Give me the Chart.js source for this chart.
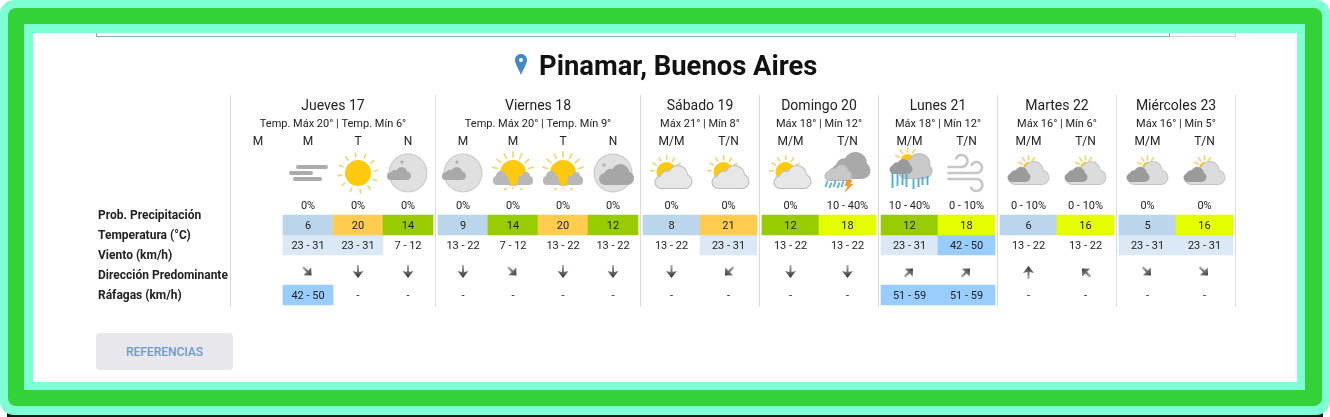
<!DOCTYPE html>
<html lang="es">
<head>
<meta charset="utf-8">
<title>Pinamar, Buenos Aires</title>
<script src="https://cdn.jsdelivr.net/npm/chart.js@4"></script>
<style>
  html, body { margin: 0; padding: 0; width: 1330px; height: 417px; overflow: hidden; background: #fff; font-family: Roboto, sans-serif; }
  .box { position: absolute; box-sizing: border-box; }
  #strip { left: 7px; top: 412px; width: 1316px; height: 5px; background: #10181a; }
  #outer { left: 0; top: 0; width: 1330px; height: 415px; background: #7fffd4; border-radius: 14px; }
  #green { left: 8px; top: 8px; width: 1314px; height: 398px; background: #32d238; border-radius: 8px; }
  #inner { left: 24px; top: 24px; width: 1281px; height: 366px; background: #7fffd4; }
  #white { left: 33px; top: 33px; width: 1264px; height: 349px; background: #fff; }
  #search { left: 96px; top: 33px; width: 1074px; height: 4px; border: 1px solid #8ea9c4; border-top: 0; }
  #searchBtn { left: 1170px; top: 33px; width: 66px; height: 4px; border: 1px solid #cfcfcf; border-top: 0; border-left: 0; }
  #chart { position: absolute; left: 0; top: 0; }
  #title { position: absolute; left: 515px; top: 49px; height: 34px; line-height: 34px; white-space: nowrap; font-size: 27.4px; font-weight: 700; color: #111; }
  #title svg { position: absolute; left: 0; top: 5px; }
  #title span { margin-left: 24px; }
  #refs { position: absolute; left: 96px; top: 333px; width: 137px; height: 37px; border: 0; border-radius: 4px; background: #e8e8ec; color: #6a9ccf; font: 500 12px Roboto, sans-serif; padding: 0; }
</style>
</head>
<body>
<div class="box" id="strip"></div>
<div class="box" id="outer"></div>
<div class="box" id="green"></div>
<div class="box" id="inner"></div>
<div class="box" id="white"></div>
<div class="box" id="search"></div>
<div class="box" id="searchBtn"></div>
<canvas id="chart" width="1330" height="417"></canvas>
<div id="title">
  <svg width="12" height="21" viewBox="0 0 12 21"><path d="M6 0C2.6 0 0 2.6 0 6c0 4 3.8 9 6 15 2.2-6 6-11 6-15 0-3.4-2.6-6-6-6z" fill="#4488c8"/><circle cx="6" cy="6" r="2" fill="#fff"/></svg>
  <span>Pinamar, Buenos Aires</span>
</div>
<button id="refs">REFERENCIAS</button>
<script>
var dayNames = ['Jueves 17', 'Viernes 18', 'Sábado 19', 'Domingo 20', 'Lunes 21', 'Martes 22', 'Miércoles 23'];
var dayRanges = [
    'Temp. Máx 20° | Temp. Mín 6°', 'Temp. Máx 20° | Temp. Mín 9°', 'Máx 21° | Mín 8°', 'Máx 18° | Mín 12°',
    'Máx 18° | Mín 12°', 'Máx 16° | Mín 6°', 'Máx 16° | Mín 5°'
];
var dayPeriods = [
    ['M', 'M', 'T', 'N'], ['M', 'M', 'T', 'N'], ['M/M', 'T/N'], ['M/M', 'T/N'],
    ['M/M', 'T/N'], ['M/M', 'T/N'], ['M/M', 'T/N']
];
var rowLabels = ['Prob. Precipitación', 'Temperatura (°C)', 'Viento (km/h)', 'Dirección Predominante', 'Ráfagas (km/h)'];

// one entry per column, the first column of Jueves is empty
var icons = [null, 'haze', 'sun', 'moonSmall', 'moonSmall', 'sunFog', 'sunFog', 'moonBig', 'sunCloud', 'sunCloud',
    'sunCloud', 'storm', 'rain', 'wind', 'grayCloud', 'grayCloud', 'grayCloud', 'grayCloud'];
var precip = [null, '0%', '0%', '0%', '0%', '0%', '0%', '0%', '0%', '0%',
    '0%', '10 - 40%', '10 - 40%', '0 - 10%', '0 - 10%', '0 - 10%', '0%', '0%'];
var temps = [null, 6, 20, 14, 9, 14, 20, 12, 8, 21, 12, 18, 12, 18, 6, 16, 5, 16];
var wind = [null, '23 - 31', '23 - 31', '7 - 12', '13 - 22', '7 - 12', '13 - 22', '13 - 22', '13 - 22', '23 - 31',
    '13 - 22', '13 - 22', '23 - 31', '42 - 50', '13 - 22', '13 - 22', '23 - 31', '23 - 31'];
var windDir = [null, 'SE', 'S', 'S', 'S', 'SE', 'S', 'S', 'S', 'SW', 'S', 'S', 'NE', 'NE', 'N', 'NW', 'SE', 'SE'];
var gusts = [null, '42 - 50', '-', '-', '-', '-', '-', '-', '-', '-', '-', '-', '51 - 59', '51 - 59', '-', '-', '-', '-'];

// table layout, both scales run in page pixels
var dayEdges = [230.5, 435.5, 640.5, 759.5, 878.5, 997.5, 1116.5, 1235.5];
var labelY = [216, 236, 256, 276, 296];
var Y_DAY = 106, Y_RANGE = 124, Y_PERIOD = 142, Y_ICON = 173, Y_PRECIP = 206, Y_TEMP = 225, Y_WIND = 245, Y_DIR = 272, Y_GUST = 295;
var TEXT_NUDGE = 1; // cell text sits a pixel under the cell middle
var TEXT = '#222';

var columns = [];
dayPeriods.forEach(function(periods, d) {
    var w = (dayEdges[d + 1] - dayEdges[d] - 5) / periods.length;
    periods.forEach(function(p, i) {
        var left = dayEdges[d] + 2.5 + i * w;
        columns.push({ left: left, right: left + w, center: left + w / 2, period: p });
    });
});

function tempColor(t) {
    if (t >= 20) return '#ffcc4d';
    if (t >= 16) return '#e5ff00';
    if (t >= 12) return '#99cc00';
    return '#bbd5ec';
}

function windColor(v) {
    if (v === '23 - 31') return '#dbe9f6';
    if (v === '42 - 50' || v === '51 - 59') return '#99ccff';
    return 'transparent';
}

function cells(values, y) {
    var out = [];
    values.forEach(function(v, i) {
        if (v !== null) out.push({ x: [columns[i].left, columns[i].right], y: y, v: v });
    });
    return out;
}

// icon drawing, coordinates relative to the icon centre
function cloud(ctx, l, t, w, h, fill, edge) {
    var blobs = [
        [l + h * 0.26, t + h * 0.74, h * 0.26],
        [l + w - h * 0.3, t + h * 0.7, h * 0.3],
        [l + w * 0.62, t + h * 0.42, h * 0.42],
        [l + w * 0.32, t + h * 0.55, h * 0.3]
    ];
    [[edge, 1], [fill, 0]].forEach(function(pass) {
        ctx.fillStyle = pass[0];
        ctx.beginPath();
        blobs.forEach(function(b) {
            ctx.moveTo(b[0] + b[2] + pass[1], b[1]);
            ctx.arc(b[0], b[1], b[2] + pass[1], 0, Math.PI * 2);
        });
        ctx.rect(l + h * 0.26, t + h * 0.5 - pass[1], w - h * 0.56, h * 0.5 + pass[1] * 2);
        ctx.fill();
    });
}

function sun(ctx, x, y, r, rayIn, rayOut, from, to, count) {
    ctx.strokeStyle = '#efd97e';
    ctx.lineWidth = 1.8;
    ctx.lineCap = 'round';
    for (var i = 0; i < count; i++) {
        var a = from + (to - from) * (i + 0.5) / count;
        ctx.beginPath();
        ctx.moveTo(x + Math.cos(a) * rayIn, y + Math.sin(a) * rayIn);
        ctx.lineTo(x + Math.cos(a) * rayOut, y + Math.sin(a) * rayOut);
        ctx.stroke();
    }
    ctx.fillStyle = '#ffc90e';
    ctx.beginPath();
    ctx.arc(x, y, r, 0, Math.PI * 2);
    ctx.fill();
}

function moon(ctx) {
    ctx.fillStyle = '#c9c9c9';
    ctx.beginPath();
    ctx.arc(0, 0, 19.5, 0, Math.PI * 2);
    ctx.fill();
    ctx.fillStyle = '#e0e0e0';
    ctx.beginPath();
    ctx.arc(0, 0, 18.5, 0, Math.PI * 2);
    ctx.fill();
}

function streak(ctx, x1, x2, y, w) {
    ctx.lineCap = 'round';
    ctx.lineWidth = w;
    ctx.beginPath();
    ctx.moveTo(x1, y);
    ctx.lineTo(x2, y);
    ctx.stroke();
}

var drawIcon = {
    haze: function(ctx) {
        ctx.strokeStyle = '#ababab';
        streak(ctx, -10, 18, -6, 4);
        streak(ctx, -17, 3, 0, 4);
        streak(ctx, -13, 12, 6, 4);
    },
    sun: function(ctx) {
        sun(ctx, 0, 0, 13, 16.5, 20, 0.13, Math.PI * 2 + 0.13, 12);
    },
    moonSmall: function(ctx) {
        moon(ctx);
        cloud(ctx, -20, -5, 22, 11, '#a9a9a9', '#a9a9a9');
        ctx.fillStyle = '#a9a9a9';
        ctx.beginPath();
        ctx.arc(-6, -11, 1.6, 0, Math.PI * 2);
        ctx.fill();
    },
    moonBig: function(ctx) {
        moon(ctx);
        cloud(ctx, -13, -8, 33, 19, '#a6a6a6', '#a6a6a6');
        ctx.fillStyle = '#b5b5b5';
        ctx.beginPath();
        ctx.arc(-9, -8, 1.8, 0, Math.PI * 2);
        ctx.fill();
    },
    sunFog: function(ctx) {
        sun(ctx, 0, 0, 13, 16, 21, Math.PI * 1.02, Math.PI * 1.98, 7);
        ctx.fillStyle = '#b8b8b8';
        ctx.beginPath();
        ctx.roundRect(-20, 3, 40, 9, 4);
        ctx.fill();
        ctx.beginPath();
        ctx.arc(-12, 3, 5, 0, Math.PI * 2);
        ctx.arc(13, 3, 4, 0, Math.PI * 2);
        ctx.fill();
        ctx.fillStyle = '#ffc90e';
        ctx.beginPath();
        ctx.moveTo(-6, 2);
        ctx.lineTo(6, 2);
        ctx.lineTo(3, 13);
        ctx.lineTo(-2, 13);
        ctx.fill();
        ctx.strokeStyle = '#efd97e';
        ctx.lineWidth = 1.8;
        streak(ctx, 0, 0, 15, 2);
        streak(ctx, -8, -7, 16, 1.8);
        streak(ctx, 8, 9, 16, 1.8);
    },
    sunCloud: function(ctx) {
        sun(ctx, -5, -1, 10, 12.5, 16, Math.PI * 0.95, Math.PI * 1.9, 6);
        cloud(ctx, -16, -7, 36, 22, '#e7e7e7', '#b9b9b9');
    },
    storm: function(ctx) {
        cloud(ctx, -15, -20, 37, 25, '#a9a9a9', '#a9a9a9');
        cloud(ctx, -22, -8, 26, 15, '#c8c8c8', '#b0b0b0');
        ctx.strokeStyle = '#4fb3d1';
        ctx.lineWidth = 1.8;
        [-20, -16, -12, -8, -4].forEach(function(x, i) {
            ctx.beginPath();
            ctx.moveTo(x, 8 + (i % 2) * 1.5);
            ctx.lineTo(x - 2, 14 + (i % 2));
            ctx.stroke();
        });
        ctx.fillStyle = '#e9a03a';
        ctx.beginPath();
        ctx.moveTo(-1, 7);
        ctx.lineTo(5, 7);
        ctx.lineTo(3, 11);
        ctx.lineTo(6, 11);
        ctx.lineTo(-3, 20);
        ctx.lineTo(0, 13);
        ctx.lineTo(-3, 13);
        ctx.fill();
    },
    rain: function(ctx) {
        sun(ctx, -2, -12, 7, 9, 13, Math.PI * 1.05, Math.PI * 1.95, 5);
        cloud(ctx, -10, -19, 32, 24, '#c9c9c9', '#bdbdbd');
        cloud(ctx, -19, -13, 21, 13, '#9a9a9a', '#9a9a9a');
        ctx.strokeStyle = '#4fb0cf';
        ctx.lineCap = 'butt';
        ctx.lineWidth = 1.9;
        [[-17, 0, 9], [-12, 1, 7], [-7, 1, 6], [-3, 1, 8], [4, 6, 16], [9, 5, 14], [13, 4, 12], [18, 3, 12]].forEach(function(d) {
            ctx.beginPath();
            ctx.moveTo(d[0], d[1]);
            ctx.lineTo(d[0], d[2] + (d[1] < 2 ? 6 : 0));
            ctx.stroke();
        });
    },
    wind: function(ctx) {
        ctx.strokeStyle = '#c6c6c6';
        ctx.lineWidth = 2.6;
        ctx.lineCap = 'round';
        ctx.beginPath();
        ctx.moveTo(-18, -6);
        ctx.lineTo(-5, -6);
        ctx.arc(-5, -12, 6, Math.PI / 2, -Math.PI * 0.85, true);
        ctx.stroke();
        ctx.beginPath();
        ctx.moveTo(-18, 0);
        ctx.lineTo(10, 0);
        ctx.arc(10, -5.5, 5.5, Math.PI / 2, -Math.PI * 0.85, true);
        ctx.stroke();
        ctx.beginPath();
        ctx.moveTo(-18, 6);
        ctx.lineTo(10, 6);
        ctx.arc(10, 12, 6, -Math.PI / 2, Math.PI * 0.85);
        ctx.stroke();
    },
    grayCloud: function(ctx) {
        sun(ctx, 0, -6, 5, 7, 11, Math.PI * 1.05, Math.PI * 1.95, 5);
        cloud(ctx, -19, -11, 39, 22, '#dcdcdc', '#c4c4c4');
        cloud(ctx, -20, -5, 21, 13, '#9b9b9b', '#9b9b9b');
    }
};

var dirAngle = { S: 0, SW: 45, W: 90, NW: 135, N: 180, NE: 225, E: 270, SE: 315 };

function drawArrow(ctx, x, y, dir) {
    ctx.save();
    ctx.translate(x, y);
    ctx.rotate(dirAngle[dir] * Math.PI / 180);
    var grad = ctx.createLinearGradient(0, -7, 0, 6);
    grad.addColorStop(0, '#b5b5b5');
    grad.addColorStop(1, '#2e2e2e');
    ctx.fillStyle = grad;
    ctx.beginPath();
    if (dir.length === 2) {
        ctx.moveTo(-1.2, -7);
        ctx.lineTo(1.2, -7);
        ctx.lineTo(1.2, -1);
        ctx.lineTo(5.5, -1);
        ctx.lineTo(0, 5);
        ctx.lineTo(-5.5, -1);
        ctx.lineTo(-1.2, -1);
    } else {
        ctx.moveTo(-1, -7);
        ctx.lineTo(1, -7);
        ctx.lineTo(1, 0);
        ctx.lineTo(5.5, -1);
        ctx.lineTo(0, 6);
        ctx.lineTo(-5.5, -1);
        ctx.lineTo(-1, 0);
    }
    ctx.closePath();
    ctx.fill();
    ctx.restore();
}

var tableText = {
    id: 'tableText',
    afterDatasetsDraw: function(chart) {
        var ctx = chart.ctx, x = chart.scales.x, y = chart.scales.y;

        function put(text, xv, yv, font) {
            ctx.font = font;
            ctx.fillStyle = TEXT;
            ctx.fillText(text, x.getPixelForValue(xv), y.getPixelForValue(yv));
        }

        ctx.save();
        ctx.textAlign = 'center';
        ctx.textBaseline = 'middle';
        dayNames.forEach(function(name, d) {
            var mid = (dayEdges[d] + dayEdges[d + 1]) / 2;
            put(name, mid, Y_DAY, '14px Roboto');
            put(dayRanges[d], mid, Y_RANGE, '11px Roboto');
        });
        columns.forEach(function(col, i) {
            put(col.period, col.center, Y_PERIOD, '12px Roboto');
            if (precip[i] !== null) put(precip[i], col.center, Y_PRECIP, '11px Roboto');
            if (temps[i] !== null) put(String(temps[i]), col.center, Y_TEMP + TEXT_NUDGE, '11px Roboto');
            if (wind[i] !== null) put(wind[i], col.center, Y_WIND + TEXT_NUDGE, '11px Roboto');
            if (gusts[i] !== null) put(gusts[i], col.center, Y_GUST + TEXT_NUDGE, '11px Roboto');
            if (windDir[i] !== null) drawArrow(ctx, x.getPixelForValue(col.center), y.getPixelForValue(Y_DIR), windDir[i]);
            if (icons[i] !== null) {
                ctx.save();
                ctx.translate(x.getPixelForValue(col.center), y.getPixelForValue(Y_ICON));
                drawIcon[icons[i]](ctx);
                ctx.restore();
            }
        });
        ctx.restore();
    }
};

new Chart(document.getElementById('chart'), {
    type: 'bar',
    plugins: [tableText],
    data: {
        datasets: [
            { label: 'Temperatura (°C)', data: cells(temps, Y_TEMP), backgroundColor: function(c) { return c.raw ? tempColor(c.raw.v) : 'transparent'; } },
            { label: 'Viento (km/h)', data: cells(wind, Y_WIND), backgroundColor: function(c) { return c.raw ? windColor(c.raw.v) : 'transparent'; } },
            { label: 'Ráfagas (km/h)', data: cells(gusts, Y_GUST), backgroundColor: function(c) { return c.raw ? windColor(c.raw.v) : 'transparent'; } }
        ]
    },
    options: {
        indexAxis: 'y',
        responsive: false,
        animation: false,
        devicePixelRatio: 1,
        grouped: false,
        barThickness: 20,
        borderWidth: 0,
        layout: { padding: { left: 98, top: 95, right: 94.5, bottom: 110 } },
        plugins: { legend: { display: false }, tooltip: { enabled: false }, title: { display: false } },
        scales: {
            x: {
                type: 'linear',
                min: dayEdges[0],
                max: dayEdges[dayEdges.length - 1],
                afterBuildTicks: function(scale) {
                    scale.ticks = dayEdges.map(function(v) { return { value: v }; });
                },
                ticks: { display: false },
                border: { display: false },
                grid: { color: '#dcdcdc', lineWidth: 1, drawTicks: false }
            },
            y: {
                type: 'linear',
                reverse: true,
                offset: false,
                min: 95,
                max: 307,
                afterBuildTicks: function(scale) {
                    scale.ticks = labelY.map(function(v) { return { value: v }; });
                },
                afterFit: function(scale) { scale.width = 132.5; },
                border: { display: false },
                grid: { display: false, drawTicks: false, offset: false },
                ticks: {
                    autoSkip: false,
                    crossAlign: 'far',
                    color: '#222',
                    font: { family: 'Roboto', size: 12, weight: 'bold' },
                    callback: function(value) { return rowLabels[labelY.indexOf(value)]; }
                }
            }
        }
    }
});
</script>
</body>
</html>
